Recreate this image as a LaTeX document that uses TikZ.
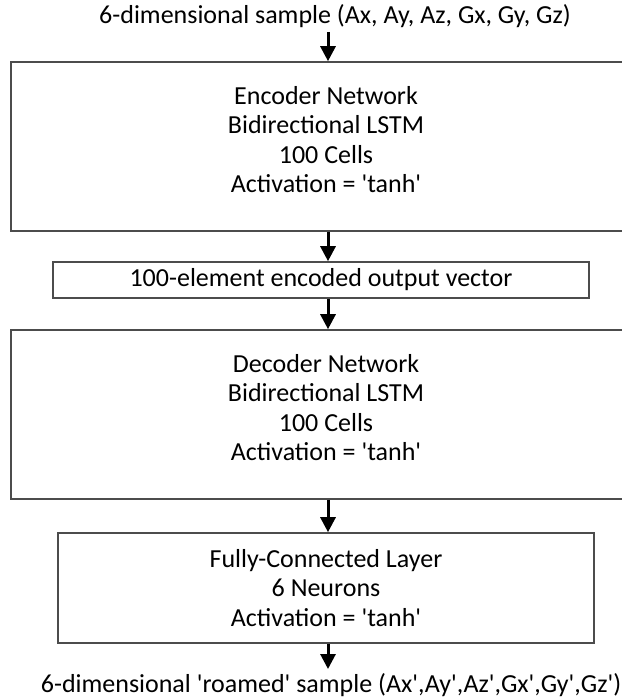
\documentclass[tikz,border=0pt]{standalone}
\usepackage{fontspec}
\setmainfont{Carlito}
\usetikzlibrary{arrows.meta}

\newcommand{\tq}{\textquotesingle}

\tikzset{
  layer/.style={draw=black!70, line width=0.8pt, align=center, inner sep=0pt,
    font=\fontsize{13}{14.8}\selectfont},
  label/.style={inner sep=2pt, font=\fontsize{13}{14.8}\selectfont},
  flow/.style={-{Triangle[length=7.5pt,width=7.5pt]}, line width=1.5pt}
}

\begin{document}
\begin{tikzpicture}[x=0.5pt, y=-0.5pt]
  \useasboundingbox (0,0) rectangle (621,699);
  %autoencoder stack
    \node[label] (in) at (335,16) {6-dimensional sample (Ax, Ay, Az, Gx, Gy, Gz)};

    \node[layer, minimum width=315pt, minimum height=84.5pt, text depth=7pt] (enc) at (326,146.5)
      {Encoder Network\\Bidirectional LSTM\\100 Cells\\Activation = \tq tanh\tq};
    \node[layer, minimum width=268pt, minimum height=18pt] (code) at (321,280)
      {100-element encoded output vector};
    \node[layer, minimum width=315pt, minimum height=84.5pt, text depth=7pt] (dec) at (326,414.5)
      {Decoder Network\\Bidirectional LSTM\\100 Cells\\Activation = \tq tanh\tq};
    \node[layer, minimum width=268pt, minimum height=55pt] (fc) at (326,588)
      {Fully-Connected Layer\\6 Neurons\\Activation = \tq tanh\tq};

    \node[label] (out) at (331,685) {6-dimensional \tq roamed\tq\ sample (Ax\tq,Ay\tq,Az\tq,Gx\tq,Gy\tq,Gz\tq)};

    \coordinate (ax) at (328,0);
    \draw[flow] (in.south -| ax) -- (enc.north -| ax);
    \draw[flow] (enc.south -| ax) -- (code.north -| ax);
    \draw[flow] (code.south -| ax) -- (dec.north -| ax);
    \draw[flow] (dec.south -| ax) -- (fc.north -| ax);
    \draw[flow] (fc.south -| ax) -- (out.north -| ax);
\end{tikzpicture}
\end{document}
